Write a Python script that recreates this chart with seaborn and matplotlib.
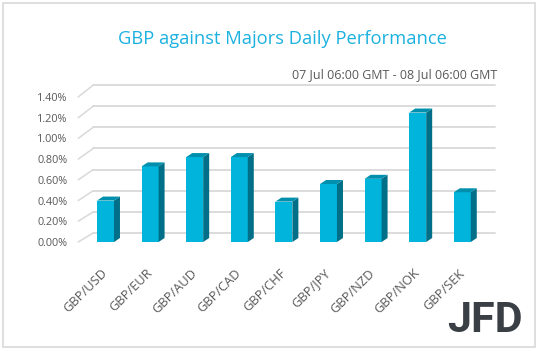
import numpy as np
import seaborn as sns
import matplotlib.pyplot as plt
from matplotlib.patches import Polygon, Rectangle

pairs = ["GBP/USD", "GBP/EUR", "GBP/AUD", "GBP/CAD", "GBP/CHF",
         "GBP/JPY", "GBP/NZD", "GBP/NOK", "GBP/SEK"]
changes = [0.40, 0.73, 0.82, 0.82, 0.39, 0.56, 0.61, 1.25, 0.48]
ticks = [0.0, 0.2, 0.4, 0.6, 0.8, 1.0, 1.2, 1.4]
tick_labels = [f"{t:.2f}%" for t in ticks]

title = "GBP against Majors Daily Performance"
subtitle = "07 Jul 06:00 GMT - 08 Jul 06:00 GMT"

front = "#00b4dc"
side = "#006f87"
top = "#0090ad"
grey = "#595959"

sns.set_style("white")
plt.rcParams["font.family"] = ["Open Sans", "DejaVu Sans"]

W, H = 538, 351
fig = plt.figure(figsize=(W / 100, H / 100), dpi=100)
ax = fig.add_axes([83.2 / W, 109 / H, 401.4 / W, 145 / H])

sns.barplot(x=pairs, y=changes, color=front, saturation=1, width=0.38, ax=ax)
ax.set_xlim(-0.5, 8.5)
ax.set_ylim(0, 1.4)

# pixel -> data units
sx = 9 / 401.4
sy = 1.4 / 145

# fake 3d wall gridlines
for v in ticks:
    yb = v + (9 + 2.1 * v) * sy
    ax.plot([-0.5 + 10 * sx, 8.5 + 10 * sx], [yb, yb], color="#d9d9d9",
            lw=1.3, zorder=0, clip_on=False)
    ax.plot([-0.5 - 5 * sx, -0.5 + 10 * sx], [v, yb], color="#d9d9d9",
            lw=1.1, zorder=0, clip_on=False)

# extrude the bars
dx, dy = 6 * sx, 4 * sy
for p in list(ax.patches):
    x, w, h = p.get_x(), p.get_width(), p.get_height()
    p.set_edgecolor("none")
    ax.add_patch(Polygon([(x + w, 0), (x + w, h), (x + w + dx, h + dy), (x + w + dx, dy)],
                         closed=True, facecolor=side, edgecolor="none", clip_on=False, zorder=3))
    ax.add_patch(Polygon([(x, h), (x + w, h), (x + w + dx, h + dy), (x + dx, h + dy)],
                         closed=True, facecolor=top, edgecolor="none", clip_on=False, zorder=3))

ax.set_yticks(ticks)
ax.set_yticklabels(tick_labels)
ax.set_xticks(range(len(pairs)))
ax.set_xticklabels(pairs, rotation=45, ha="right", va="center", rotation_mode="anchor")
ax.tick_params(axis="y", length=0, pad=11.5, labelsize=7.8, labelcolor=grey)
ax.tick_params(axis="x", length=0, pad=21, labelsize=9.3, labelcolor=grey)
ax.set_xlabel("")
ax.set_ylabel("")
ax.grid(False)
sns.despine(ax=ax, left=True, bottom=True)

fig.text(282 / W, 1 - 39 / H, title, ha="center", va="center", fontsize=13.2, color="#1cb2e0")
fig.text(497 / W, 1 - 75 / H, subtitle, ha="right", va="center", fontsize=9, color=grey)
fig.text(485 / W, 1 - 321 / H, "JFD", ha="center", va="center", fontsize=31,
         fontweight="bold", color="#3a3f45", family="Roboto")
fig.add_artist(Rectangle((3 / W, 4 / H), 532 / W, 344 / H, transform=fig.transFigure,
                         fill=False, edgecolor="#d9d9d9", lw=1.2))

fig.savefig("out.png", dpi=100, facecolor="white")
